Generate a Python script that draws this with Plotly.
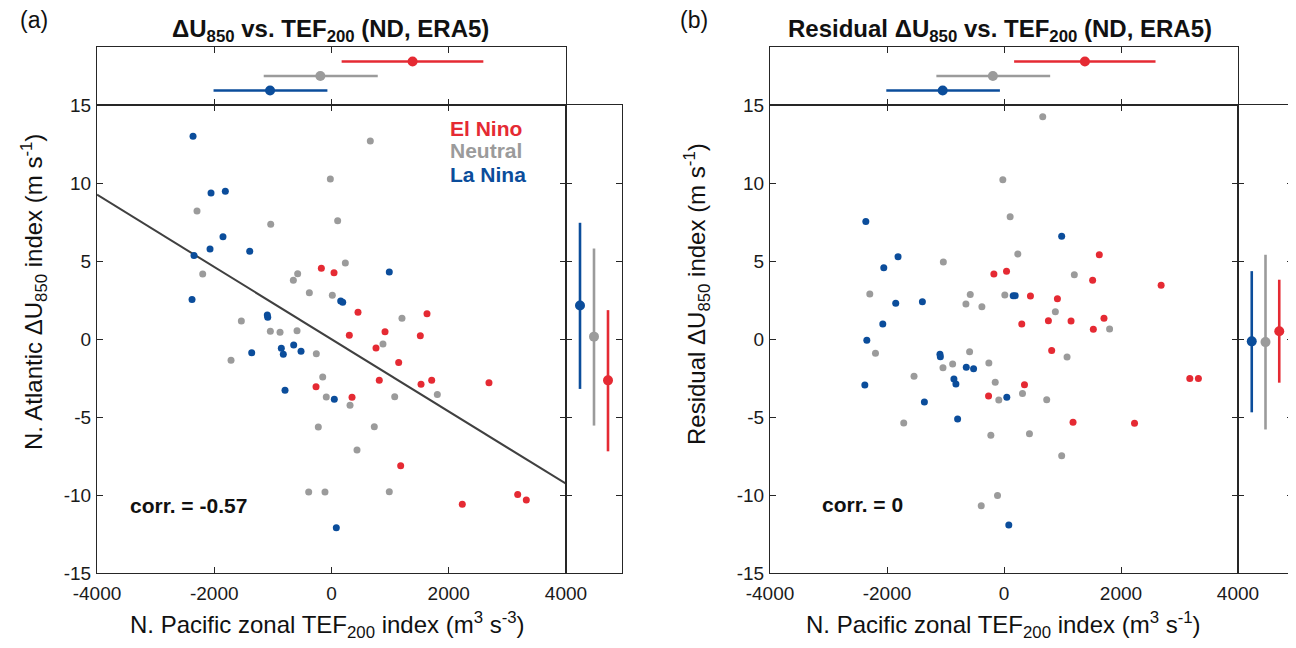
import plotly.graph_objects as go

# page body has an 8px default margin: the figure is drawn at (8, 8) in the window
OFF = 8
W, H = 1296 - OFF, 648 - OFF
RED, GRAY, BLUE = "#E52A33", "#9B9B9B", "#0B4D9B"
AX = "#262626"
SANS = "Liberation Sans, Arial, Helvetica, sans-serif"

# ---------------- data ----------------
categories = ["La Nina", "Neutral", "El Nino"]

tef_nino = [-173, 43, 452, 1629, 304, 913, 1515, 759, 1146, -264, 815, 1527, 1709, 2686, 350, 1180, 2231, 3176, 3323]
du_nino = [4.53, 4.25, 1.71, 1.62, 0.24, 0.47, 0.21, -0.58, -1.50, -3.06, -2.65, -2.90, -2.65, -2.80, -3.74, -8.12, -10.60, -9.96, -10.32]
res_nino = [4.17, 4.34, 2.76, 5.40, 0.96, 2.58, 3.76, 1.17, 1.15, -3.65, -0.73, 0.62, 1.33, 3.44, -2.93, -5.34, -5.40, -2.54, -2.54]

tef_neut = [-20, 105, 662, -2294, -1037, -2197, -577, -651, -378, 14, -1538, -1043, -878, -588, -1714, -259, 236, 1202, 878,
            -150, -89, -225, -389, -111, 1805, 316, 1078, 730, 435, 986]
du_neut = [10.26, 7.58, 12.70, 8.20, 7.35, 4.17, 4.19, 3.76, 2.97, 2.80, 1.15, 0.49, 0.43, 0.53, -1.37, -0.94, 4.87, 1.33, -0.32,
           -2.44, -3.72, -5.64, -9.81, -9.81, -3.55, -4.25, -3.70, -5.62, -7.12, -9.79]
res_neut = [10.21, 7.84, 14.25, 2.88, 4.94, -0.92, 2.86, 2.24, 2.07, 2.82, -2.39, -1.84, -1.60, -0.81, -5.38, -1.54, 5.45, 4.12, 1.75,
            -2.78, -3.91, -6.17, -10.69, -10.04, 0.64, -3.50, -1.15, -3.89, -6.07, -7.48]

tef_nina = [-2362, -2055, -1811, -1851, -2072, -2345, -1395, -2379, -1095, -1088, -856, -822, -645, -520, -1361, 157, 191, 986, 48, -793, 82]
du_nina = [13.00, 9.36, 9.47, 6.56, 5.77, 5.36, 5.62, 2.54, 1.54, 1.39, -0.60, -0.98, -0.38, -0.79, -0.88, 2.44, 2.35, 4.29, -3.87, -3.29, -12.10]
res_nina = [7.54, 4.57, 5.28, 2.29, 0.96, -0.08, 2.39, -2.95, -0.98, -1.13, -2.56, -2.88, -1.81, -1.90, -4.04, 2.78, 2.78, 6.58, -3.74, -5.13, -11.92]

# regression line (panel a)
line_x = [-4000, 4000]
line_y = [9.25, -9.28]

# marginal summaries, order: La Nina, Neutral, El Nino
tef_lo = [-2012, -1156, 173]
tef_mid = [-1048, -190, 1383]
tef_hi = [-70, 789, 2590]

du_lo = [-3.2, -5.55, -7.2]
du_mid = [2.15, 0.15, -2.65]
du_hi = [7.45, 5.8, 1.85]

res_lo = [-4.7, -5.8, -2.8]
res_mid = [-0.15, -0.2, 0.5]
res_hi = [4.35, 5.4, 3.8]

slot = [1, 2, 3]
colors = [BLUE, GRAY, RED]

x_ticks = [-4000, -2000, 0, 2000, 4000]
x_tick_labels = ["-4000", "-2000", "0", "2000", "4000"]
y_ticks = [-15, -10, -5, 0, 5, 10, 15]
y_tick_labels = ["-15", "-10", "-5", "0", "5", "10", "15"]

# ---------------- figure ----------------
fig = go.Figure()


def px(v):
    return (v - OFF) / W


def py(v):
    return 1 - (v - OFF) / H


main_y = [py(573), py(105)]
top_y = [py(105), py(47)]
panels = [
    dict(main=[px(97), px(566)], side=[px(566), px(622)], ys=(du_nina, du_neut, du_nino),
         lo=du_lo, mid=du_mid, hi=du_hi, n=0),
    dict(main=[px(770), px(1238)], side=[px(1238), px(1293)], ys=(res_nina, res_neut, res_nino),
         lo=res_lo, mid=res_mid, hi=res_hi, n=3),
]

tf = dict(family=SANS, size=19, color="#1a1a1a")
common = dict(showgrid=False, zeroline=False, showline=True, linecolor=AX, linewidth=1.2,
              ticks="inside", ticklen=6, tickcolor=AX, tickwidth=1.2, mirror="ticks", automargin=False)
plain = dict(showgrid=False, zeroline=False, showline=True, linecolor=AX, linewidth=1.2, mirror=True,
             ticks="", showticklabels=False, automargin=False)

for p in panels:
    n = p["n"]
    xm, ym = ("x", "y") if n == 0 else (f"x{n+1}", f"y{n+1}")
    xt, yt = f"x{n+2}", f"y{n+2}"
    xs, ys_ = f"x{n+3}", f"y{n+3}"
    if n == 0:
        fig.add_trace(go.Scatter(x=line_x, y=line_y, mode="lines", line=dict(color="#404040", width=2),
                                 xaxis=xm, yaxis=ym, showlegend=False, hoverinfo="skip"))
    for xs_data, ys_data, c in zip((tef_nina, tef_neut, tef_nino), p["ys"], colors):
        fig.add_trace(go.Scatter(x=xs_data, y=ys_data, mode="markers", marker=dict(color=c, size=7),
                                 xaxis=xm, yaxis=ym, showlegend=False))
    for i in range(3):
        fig.add_trace(go.Scatter(x=[tef_mid[i]], y=[slot[i]], mode="markers",
                                 marker=dict(color=colors[i], size=10),
                                 error_x=dict(type="data", symmetric=False, array=[tef_hi[i] - tef_mid[i]],
                                              arrayminus=[tef_mid[i] - tef_lo[i]], thickness=2.6, width=0,
                                              color=colors[i]),
                                 xaxis=xt, yaxis=yt, showlegend=False))
    for i in range(3):
        fig.add_trace(go.Scatter(x=[slot[i]], y=[p["mid"][i]], mode="markers",
                                 marker=dict(color=colors[i], size=10),
                                 error_y=dict(type="data", symmetric=False, array=[p["hi"][i] - p["mid"][i]],
                                              arrayminus=[p["mid"][i] - p["lo"][i]], thickness=2.6, width=0,
                                              color=colors[i]),
                                 xaxis=xs, yaxis=ys_, showlegend=False))
    kx = "xaxis" if n == 0 else f"xaxis{n+1}"
    ky = "yaxis" if n == 0 else f"yaxis{n+1}"
    lay = {
        kx: dict(domain=p["main"], range=[-4000, 4000], anchor=ym, tickvals=x_ticks, ticktext=x_tick_labels,
                 tickfont=tf, ticklabelstandoff=3, **common),
        ky: dict(domain=main_y, range=[-15, 15], anchor=xm, tickvals=y_ticks, ticktext=y_tick_labels,
                 tickfont=tf, ticklabelstandoff=1, **common),
        f"xaxis{n+2}": dict(domain=p["main"], range=[-4000, 4000], anchor=yt, tickvals=[-2000, 0, 2000],
                            showticklabels=False, **common),
        f"yaxis{n+2}": dict(domain=top_y, range=[0, 4], anchor=xt, **plain),
        f"xaxis{n+3}": dict(domain=p["side"], range=[0, 4], anchor=ys_, **plain),
        f"yaxis{n+3}": dict(domain=main_y, range=[-15, 15], anchor=xs, tickvals=y_ticks,
                            showticklabels=False, **common),
    }
    fig.update_layout(**lay)

ann = []


def A(text, x, y, size, color="#111", xanchor="center", angle=0):
    ann.append(dict(text=text, x=px(x), y=py(y), xref="paper", yref="paper", showarrow=False,
                    xanchor=xanchor, yanchor="middle", textangle=angle,
                    font=dict(family=SANS, size=size, color=color)))


A("(a)", 34, 20, 23)
A("(b)", 694, 20, 23)
A("<b>ΔU<sub>850</sub> vs. TEF<sub>200</sub> (ND, ERA5)</b>", 330, 30, 24)
A("<b>Residual ΔU<sub>850</sub> vs. TEF<sub>200</sub> (ND, ERA5)</b>", 1000, 30, 24)
A("N. Pacific zonal TEF<sub>200</sub> index (m<sup>3</sup> s<sup>-3</sup>)", 327, 625, 24)
A("N. Pacific zonal TEF<sub>200</sub> index (m<sup>3</sup> s<sup>-1</sup>)", 1003, 625, 24)
A("N. Atlantic ΔU<sub>850</sub> index (m s<sup>-1</sup>)", 34, 292, 24, angle=-90)
A("Residual ΔU<sub>850</sub> index (m s<sup>-1</sup>)", 697, 294, 24, angle=-90)
A("<b>El Nino</b>", 448, 128, 21, color=RED, xanchor="left")
A("<b>Neutral</b>", 448, 151, 21, color=GRAY, xanchor="left")
A("<b>La Nina</b>", 448, 174, 21, color=BLUE, xanchor="left")
A("<b>corr. = -0.57</b>", 128, 505, 21, xanchor="left")
A("<b>corr. = 0</b>", 820, 504, 21, xanchor="left")

fig.update_layout(width=W, height=H, margin=dict(l=0, r=0, t=0, b=0, pad=0), paper_bgcolor="white",
                  plot_bgcolor="white", annotations=ann, showlegend=False)

fig.write_html("out.html")
